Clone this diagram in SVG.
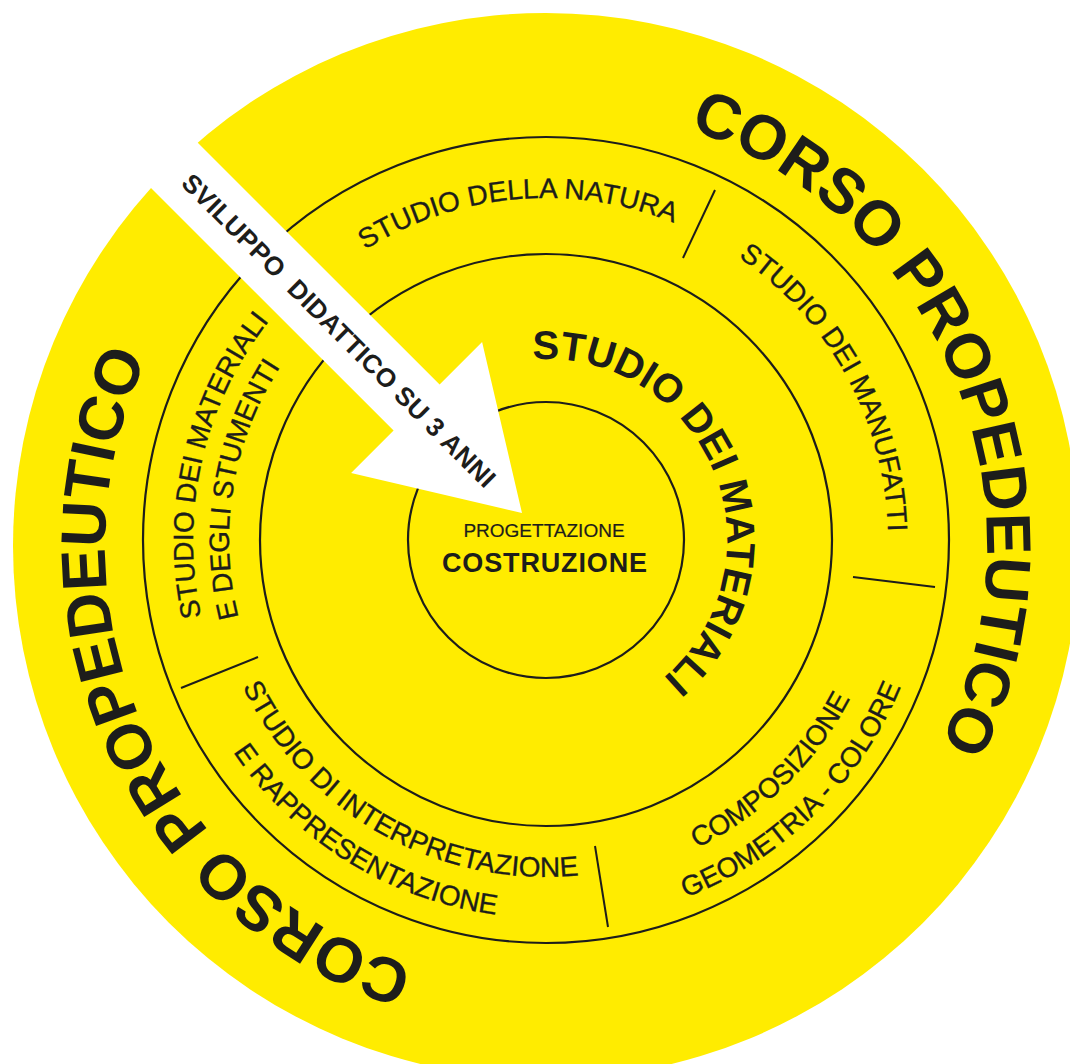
<svg xmlns="http://www.w3.org/2000/svg" xmlns:xlink="http://www.w3.org/1999/xlink" width="1070" height="1064" viewBox="0 0 1070 1064">
  <style>
    .ring { fill: none; stroke: #1d1d1b; stroke-width: 2.2; }
    .divider { stroke: #1d1d1b; stroke-width: 2; stroke-linecap: butt; }
    .lbl { font-family: "Liberation Sans", Arial, Helvetica, sans-serif; fill: #1d1d1b; }
    .arc { font-size: 28px; stroke: #1d1d1b; stroke-width: 0.35; }
    .big { font-size: 63px; font-weight: bold; }
    .core { font-size: 40px; font-weight: bold; }
  </style>
  <defs>
    <!-- full-circle guides; 50% of each path lies at angle 0, rotated into place per label -->
    <path id="cw441" d="M105,546 A441,441 0 1,1 987,546 A441,441 0 1,1 105,546"/>
    <path id="cw342" d="M204,540 A342,342 0 1,1 888,540 A342,342 0 1,1 204,540"/>
    <path id="cw353" d="M193,540 A353,353 0 1,1 899,540 A353,353 0 1,1 193,540"/>
    <path id="cw317" d="M229,540 A317,317 0 1,1 863,540 A317,317 0 1,1 229,540"/>
    <path id="cw181" d="M365,540 A181,181 0 1,1 727,540 A181,181 0 1,1 365,540"/>
    <path id="ccw337" d="M209,540 A337,337 0 1,0 883,540 A337,337 0 1,0 209,540"/>
    <path id="ccw378" d="M168,540 A378,378 0 1,0 924,540 A378,378 0 1,0 168,540"/>
    <path id="ccw343" d="M203,540 A343,343 0 1,0 889,540 A343,343 0 1,0 203,540"/>
    <path id="ccw384" d="M162,540 A384,384 0 1,0 930,540 A384,384 0 1,0 162,540"/>
  </defs>

  <rect width="1070" height="1064" fill="#ffffff"/>

  <!-- yellow disc -->
  <g id="disc">
    <circle cx="546" cy="546" r="533" fill="#FFEC00"/>
  </g>

  <!-- concentric rings -->
  <g id="rings">
    <circle class="ring" cx="546" cy="540" r="403"/>
    <circle class="ring" cx="546" cy="540" r="286"/>
    <circle class="ring" cx="546" cy="540" r="138"/>
  </g>

  <!-- sector dividers of the middle ring -->
  <g id="connectors">
    <line class="divider" x1="683" y1="258" x2="715" y2="190"/>
    <line class="divider" x1="853" y1="577" x2="935" y2="587"/>
    <line class="divider" x1="595" y1="846" x2="608" y2="927"/>
    <line class="divider" x1="181" y1="688" x2="258" y2="657"/>
  </g>

  <!-- outer band -->
  <g id="corso-1">
    <text class="lbl big" transform="rotate(-22.2 546 546)" text-anchor="middle"><textPath xlink:href="#cw441" href="#cw441" startOffset="50%">CORSO PROPEDEUTICO</textPath></text>
  </g>
  <g id="corso-2">
    <text class="lbl big" transform="rotate(156.35 546 546)" text-anchor="middle"><textPath xlink:href="#cw441" href="#cw441" startOffset="50%">CORSO PROPEDEUTICO</textPath></text>
  </g>

  <!-- middle ring sectors -->
  <g id="natura">
    <text class="lbl arc" transform="rotate(-95 546 540)" text-anchor="middle"><textPath xlink:href="#cw342" href="#cw342" startOffset="50%">STUDIO DELLA NATURA</textPath></text>
  </g>
  <g id="manufatti">
    <text class="lbl arc" transform="rotate(-28.6 546 540)" text-anchor="middle"><textPath xlink:href="#cw342" href="#cw342" startOffset="50%">STUDIO DEI MANUFATTI</textPath></text>
  </g>
  <g id="composizione">
    <text class="lbl arc" transform="rotate(45.7 546 540)" text-anchor="middle"><textPath xlink:href="#ccw343" href="#ccw343" startOffset="50%">COMPOSIZIONE</textPath></text>
    <text class="lbl arc" transform="rotate(45.55 546 540)" text-anchor="middle"><textPath xlink:href="#ccw384" href="#ccw384" startOffset="50%">GEOMETRIA - COLORE</textPath></text>
  </g>
  <g id="interpretazione">
    <text class="lbl arc" transform="rotate(119.3 546 540)" text-anchor="middle"><textPath xlink:href="#ccw337" href="#ccw337" startOffset="50%">STUDIO DI INTERPRETAZIONE</textPath></text>
    <text class="lbl arc" transform="rotate(121.75 546 540)" text-anchor="middle"><textPath xlink:href="#ccw378" href="#ccw378" startOffset="50%">E RAPPRESENTAZIONE</textPath></text>
  </g>
  <g id="strumenti">
    <text class="lbl arc" transform="rotate(192.9 546 540)" text-anchor="middle"><textPath xlink:href="#cw353" href="#cw353" startOffset="50%">STUDIO DEI MATERIALI</textPath></text>
    <text class="lbl arc" transform="rotate(189.5 546 540)" text-anchor="middle"><textPath xlink:href="#cw317" href="#cw317" startOffset="50%">E DEGLI STUMENTI</textPath></text>
  </g>

  <!-- inner ring -->
  <g id="materiali">
    <text class="lbl core" transform="rotate(-22.25 546 540)" text-anchor="middle"><textPath xlink:href="#cw181" href="#cw181" startOffset="50%">STUDIO DEI MATERIALI</textPath></text>
  </g>

  <!-- centre -->
  <g id="centro">
    <text class="lbl" x="544" y="537" font-size="19" stroke="#1d1d1b" stroke-width="0.2" text-anchor="middle">PROGETTAZIONE</text>
    <text class="lbl" x="544.5" y="572" font-size="27" font-weight="bold" text-anchor="middle" textLength="205" lengthAdjust="spacing">COSTRUZIONE</text>
  </g>

  <!-- three-year path arrow -->
  <g id="arrow">
    <polygon fill="#ffffff" points="50,-5 439.6,384.6 482.1,342.1 522,513 351.1,473.1 393.6,430.6 4,41"/>
    <text class="lbl" transform="translate(180 184.4) rotate(45)" font-size="26" font-weight="bold" textLength="431" lengthAdjust="spacing" style="white-space:pre">SVILUPPO  DIDATTICO SU 3 ANNI</text>
  </g>
</svg>
